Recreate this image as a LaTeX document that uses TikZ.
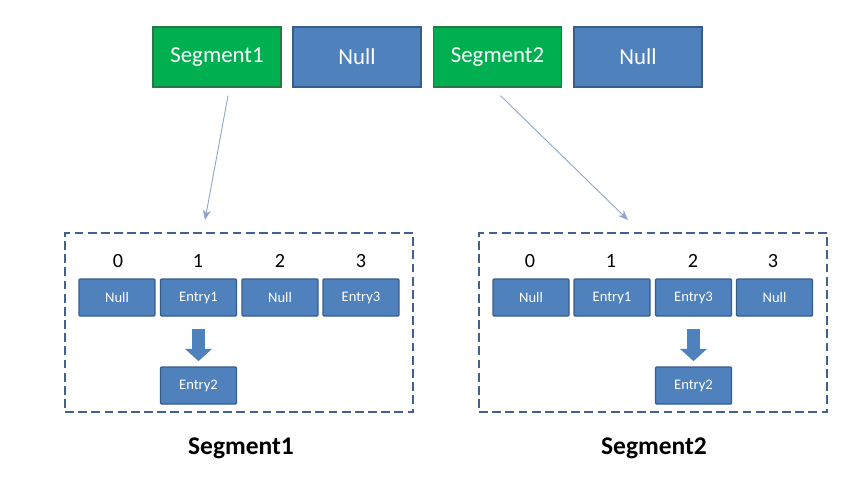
\documentclass[tikz,border=0pt]{standalone}
\usepackage{fontspec}
\setmainfont{Carlito}
\usepackage{tikz}
\usetikzlibrary{arrows.meta,positioning}
\usepackage{xcolor}
\definecolor{segfill}{RGB}{0,176,80}
\definecolor{segline}{RGB}{40,120,70}
\definecolor{cellfill}{RGB}{79,129,189}
\definecolor{cellline}{RGB}{56,93,138}
\definecolor{linkc}{RGB}{140,165,200}
\definecolor{frame}{RGB}{65,98,143}

\begin{document}
\begin{tikzpicture}[x=0.02cm,y=-0.02cm,
  seg/.style={rectangle,draw=segline,fill=segfill,line width=0.8pt,
    minimum width=2.56cm,minimum height=1.2cm,text=white,font=\fontsize{13}{15}\selectfont},
  top/.style={seg,draw=cellline,fill=cellfill},
  cell/.style={rectangle,draw=cellline,fill=cellfill,line width=0.7pt,rounded corners=0.5pt,
    minimum width=1.52cm,minimum height=0.74cm,inner sep=0pt,text=white,font=\fontsize{8.3}{10}\selectfont},
  idx/.style={font=\fontsize{11.5}{13}\selectfont},
  bucket/.style={rectangle,draw=frame,dash pattern=on 5pt off 2.5pt,line width=1pt,
    minimum width=6.96cm,minimum height=3.58cm},
  title/.style={font=\bfseries\fontsize{14.5}{17}\selectfont},
  link/.style={-{Stealth[length=2mm,width=1.6mm]},draw=linkc,line width=0.5pt},
  chain/.style={-{Triangle[length=7pt,width=15pt]},draw=cellfill,line width=7.4pt,
    shorten <=7pt,shorten >=3pt}
]
\useasboundingbox[fill=white] (0,0) rectangle (848,498);
% segment table
\node[seg] (s1) at (217,57) {Segment1};
\node[top] (n1) at (357,57) {Null};
\node[seg] (s2) at (497.5,57) {Segment2};
\node[top] (n2) at (638,57) {Null};
% two segments
\node[bucket] (b1) at (239,322.5) {};
\node[bucket] (b2) at (653,322.5) {};
\coordinate (t1) at (205,220);
\coordinate (t2) at (628,220);
\draw[link] ([xshift=0.22cm,yshift=-0.16cm]s1.south) -- (t1);
\draw[link] ([xshift=0.06cm,yshift=-0.16cm]s2.south) -- (t2);
% left table
\node[idx] at (118,261) {0};
\node[idx] at (198,261) {1};
\node[idx] at (280,261) {2};
\node[idx] at (361,261) {3};
\node[cell] (a0) at (117,297.5) {Null};
\node[cell] (a1) at (198.5,297.5) {Entry1};
\node[cell] (a2) at (280,297.5) {Null};
\node[cell] (a3) at (361,297.5) {Entry3};
\node[cell] (a4) at (198.5,385.5) {Entry2};
\draw[chain] (a1) -- (a4);
\node[title] (l1) at (241,448) {Segment1};
% right table
\node[idx] at (530,261) {0};
\node[idx] at (611,261) {1};
\node[idx] at (693,261) {2};
\node[idx] at (773,261) {3};
\node[cell] (c0) at (531,297.5) {Null};
\node[cell] (c1) at (612,297.5) {Entry1};
\node[cell] (c2) at (693.5,297.5) {Entry3};
\node[cell] (c3) at (774.5,297.5) {Null};
\node[cell] (c4) at (693.5,385.5) {Entry2};
\draw[chain] (c2) -- (c4);
\node[title] (l2) at (654,448) {Segment2};
\end{tikzpicture}
\end{document}
